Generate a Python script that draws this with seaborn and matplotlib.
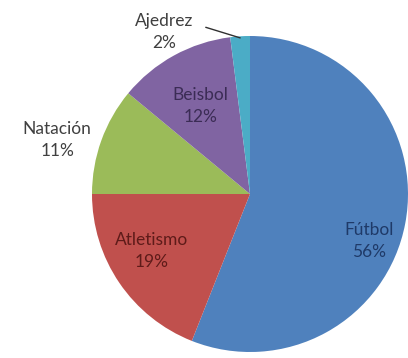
import matplotlib
matplotlib.use('Agg')
import numpy as np
import matplotlib.pyplot as plt
import seaborn as sns

# Datos del gráfico (orden en el sentido de las agujas del reloj desde arriba)
deportes = ['Fútbol', 'Atletismo', 'Natación', 'Beisbol', 'Ajedrez']
porcentajes = [56, 19, 11, 12, 2]

# Colores estilo Excel 2007
colores = ['#4F81BD', '#C0504D', '#9BBB59', '#8064A2', '#4BACC6']
colores_texto = ['#1F3A68', '#5E1B19', '#404040', '#3B2C55', '#404040']
# posición de cada etiqueta (unidades del radio)
pos_etiquetas = [(0.753, -0.297), (-0.62, -0.36), (-1.22, 0.34),
                 (-0.316, 0.557), (-0.544, 1.025)]

sns.set_theme(style='white')
plt.rcParams['font.family'] = ['Lato', 'DejaVu Sans']

fig = plt.figure(figsize=(4.08, 3.58), dpi=100)
ax = fig.add_axes([0, 0, 1, 1])

wedges, _ = ax.pie(porcentajes, colors=colores, startangle=90,
                   counterclock=False, radius=1.0,
                   wedgeprops=dict(linewidth=0, edgecolor='none'))

for nombre, valor, (x, y), c in zip(deportes, porcentajes, pos_etiquetas, colores_texto):
    ax.text(x, y, f'{nombre}\n{valor}%', ha='center', va='center',
            fontsize=12.5, color=c, linespacing=1.45)

# línea guía de Ajedrez hacia su porción
ang = np.radians((wedges[4].theta1 + wedges[4].theta2) / 2)
ax.annotate('', xy=(np.cos(ang) * 0.99, np.sin(ang) * 0.99),
            xytext=(-0.28, 1.055),
            arrowprops=dict(arrowstyle='-', color='#303030', lw=1.0,
                            shrinkA=0, shrinkB=0))

ax.set_xlim(-250 / 158, 158 / 158)
ax.set_ylim(-(358 - 194) / 158, 194 / 158)
ax.set_aspect('equal')
ax.axis('off')

plt.savefig('out.png', dpi=100)
